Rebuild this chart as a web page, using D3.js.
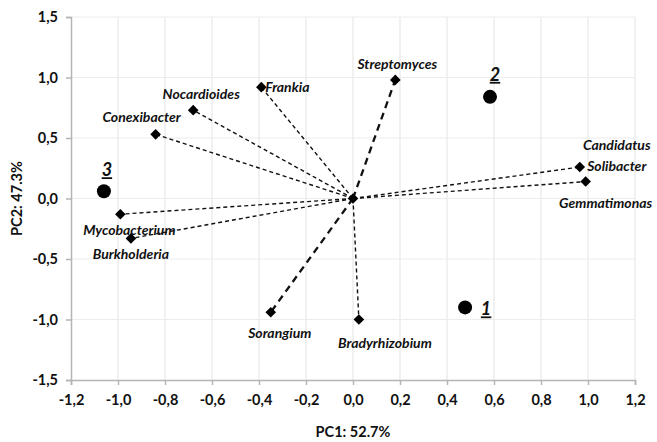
<!DOCTYPE html>
<html>
<head>
<meta charset="utf-8">
<script src="https://cdn.jsdelivr.net/npm/d3@7"></script>
<style>
  body { margin: 0; background: #fff; }
  text { font-family: Lato, "Open Sans", sans-serif; }
</style>
</head>
<body>
<div id="chart"></div>
<script>
// genus loadings (PC1, PC2)
const genera = ["Frankia", "Nocardioides", "Conexibacter", "Streptomyces", "Candidatus Solibacter",
  "Gemmatimonas", "Mycobacterium", "Burkholderia", "Sorangium", "Bradyrhizobium"]
const pc1 = [-0.39, -0.68, -0.84, 0.18, 0.965, 0.99, -0.99, -0.945, -0.35, 0.025]
const pc2 = [0.92, 0.73, 0.53, 0.98, 0.26, 0.14, -0.13, -0.33, -0.94, -1.00]
// heavy dashed vectors
const heavy = ["Streptomyces", "Sorangium"]

// sample scores
const sites = ["1", "2", "3"]
const sitePc1 = [0.477, 0.583, -1.06]
const sitePc2 = [-0.90, 0.84, 0.06]

const xTicks = [-1.2, -1.0, -0.8, -0.6, -0.4, -0.2, 0.0, 0.2, 0.4, 0.6, 0.8, 1.0, 1.2]
const yTicks = [-1.5, -1.0, -0.5, 0.0, 0.5, 1.0, 1.5]

// label placement (pixel offsets from the marker)
const labelPos = {
  "Frankia": {dx: 4, dy: 1, anchor: "start"},
  "Nocardioides": {dx: 8, dy: -15, anchor: "middle"},
  "Conexibacter": {dx: -14, dy: -16, anchor: "middle"},
  "Streptomyces": {dx: 2, dy: -15, anchor: "middle"},
  "Gemmatimonas": {dx: 20, dy: 22, anchor: "middle"},
  "Mycobacterium": {dx: 9, dy: 17, anchor: "middle"},
  "Burkholderia": {dx: 0, dy: 17, anchor: "middle"},
  "Sorangium": {dx: 9, dy: 22, anchor: "middle"},
  "Bradyrhizobium": {dx: 26, dy: 24, anchor: "middle"},
}
const siteLabelPos = {"1": {dx: 21, dy: 8}, "2": {dx: 5, dy: -16}, "3": {dx: 3, dy: -15}}

const width = 657, height = 442
const margin = {top: 17, right: 22, bottom: 62, left: 71}
const fmt = d => d3.format(".1f")(d).replace(".", ",").replace("−", "-")

const svg = d3.select("#chart").append("svg")
  .attr("width", width)
  .attr("height", height)

const x = d3.scaleLinear().domain([-1.2, 1.2]).range([margin.left, width - margin.right])
const y = d3.scaleLinear().domain([-1.5, 1.5]).range([height - margin.bottom, margin.top])

// gridlines
svg.append("g")
  .attr("stroke", "#e3e3e3")
  .attr("stroke-width", 1)
  .selectAll("line.v")
  .data(xTicks.slice(1))
  .join("line")
    .attr("x1", d => x(d)).attr("x2", d => x(d))
    .attr("y1", y(1.5)).attr("y2", y(-1.5))
svg.append("g")
  .attr("stroke", "#ececec")
  .attr("stroke-width", 1)
  .selectAll("line")
  .data(yTicks.slice(1))
  .join("line")
    .attr("x1", x(-1.2)).attr("x2", x(1.2))
    .attr("y1", d => y(d)).attr("y2", d => y(d))

// axes
const xAxis = svg.append("g")
  .attr("transform", `translate(0,${y(-1.5)})`)
  .call(d3.axisBottom(x).tickValues(xTicks).tickFormat(fmt).tickSize(5).tickPadding(10))
const yAxis = svg.append("g")
  .attr("transform", `translate(${x(-1.2)},0)`)
  .call(d3.axisLeft(y).tickValues(yTicks).tickFormat(fmt).tickSize(5).tickPadding(8))
for (const ax of [xAxis, yAxis]) {
  ax.select(".domain").attr("stroke", "#b5b5b5").attr("stroke-width", 1.5)
  ax.selectAll(".tick line").attr("stroke", "#b5b5b5").attr("stroke-width", 1.5)
  ax.selectAll(".tick text")
    .attr("fill", "#111")
    .attr("font-family", "Lato, sans-serif")
    .attr("font-size", 14.5)
    .attr("font-weight", "bold")
}

svg.append("text")
  .attr("x", x(0))
  .attr("y", 437)
  .attr("text-anchor", "middle")
  .attr("font-size", 14.5)
  .attr("font-weight", "bold")
  .attr("fill", "#111")
  .text("PC1: 52.7%")
svg.append("text")
  .attr("transform", `translate(22,${y(0)}) rotate(-90)`)
  .attr("text-anchor", "middle")
  .attr("font-size", 14.5)
  .attr("font-weight", "bold")
  .attr("fill", "#111")
  .text("PC2: 47.3%")

const rows = genera.map((g, i) => ({name: g, x: pc1[i], y: pc2[i]}))

// vectors
svg.append("g")
  .attr("fill", "none")
  .attr("stroke", "#111")
  .selectAll("line")
  .data(rows)
  .join("line")
    .attr("x1", x(0)).attr("y1", y(0))
    .attr("x2", d => x(d.x)).attr("y2", d => y(d.y))
    .attr("stroke-width", d => heavy.includes(d.name) ? 2.3 : 1.4)
    .attr("stroke-dasharray", d => heavy.includes(d.name) ? "7,5" : "4,3")

// diamonds
const diamond = d3.symbol().type(d3.symbolDiamond2).size(72)
svg.append("g")
  .selectAll("path")
  .data(rows.concat([{name: "origin", x: 0, y: 0}]))
  .join("path")
    .attr("transform", d => `translate(${x(d.x)},${y(d.y)})`)
    .attr("d", diamond)
    .attr("fill", "#000")

// genus labels
const labels = svg.append("g")
  .attr("font-size", 14)
  .attr("font-weight", "bold")
  .attr("font-style", "italic")
  .attr("fill", "#111")
for (const d of rows) {
  if (d.name === "Candidatus Solibacter") {
    const t = labels.append("text")
      .attr("text-anchor", "middle")
    t.append("tspan").attr("x", x(d.x) + 37).attr("y", y(d.y) - 17).text("Candidatus")
    t.append("tspan").attr("x", x(d.x) + 37).attr("y", y(d.y) + 4).text("Solibacter")
    continue
  }
  const p = labelPos[d.name]
  labels.append("text")
    .attr("x", x(d.x) + p.dx)
    .attr("y", y(d.y) + p.dy + 4)
    .attr("text-anchor", p.anchor)
    .text(d.name)
}

// samples
const siteRows = sites.map((s, i) => ({name: s, x: sitePc1[i], y: sitePc2[i]}))
svg.append("g")
  .selectAll("circle")
  .data(siteRows)
  .join("circle")
    .attr("cx", d => x(d.x))
    .attr("cy", d => y(d.y))
    .attr("r", 7)
    .attr("fill", "#000")
svg.append("g")
  .attr("font-size", 18)
  .attr("font-weight", "bold")
  .attr("font-style", "italic")
  .attr("text-decoration", "underline")
  .attr("fill", "#111")
  .selectAll("text")
  .data(siteRows)
  .join("text")
    .attr("x", d => x(d.x) + siteLabelPos[d.name].dx)
    .attr("y", d => y(d.y) + siteLabelPos[d.name].dy)
    .attr("text-anchor", "middle")
    .text(d => d.name)
</script>
</body>
</html>
